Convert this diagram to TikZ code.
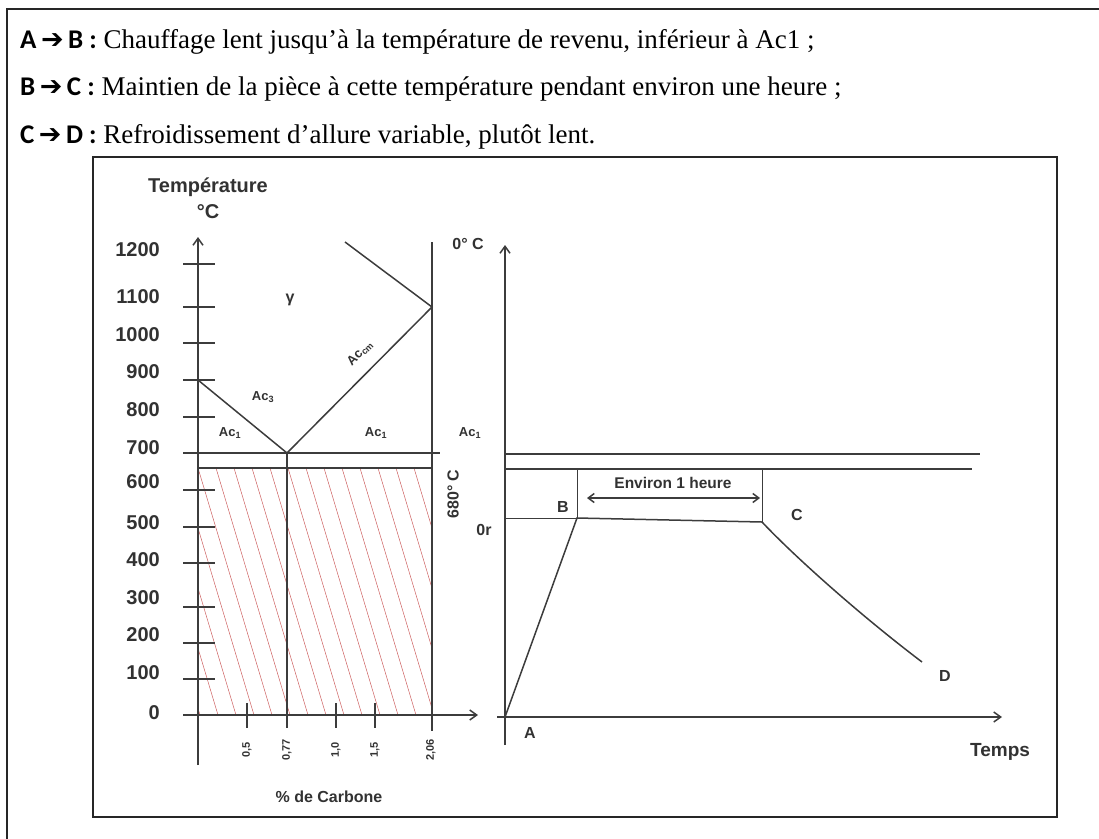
\documentclass[tikz,border=0pt]{standalone}
\usepackage{fontspec}
\setmainfont{Liberation Serif}
\setsansfont{Liberation Sans}
\newfontfamily\calfont{Carlito}
\newfontfamily\arrfont{DejaVu Sans}
\usetikzlibrary{arrows.meta, calc}
\definecolor{cLine}{RGB}{60,60,60}
\definecolor{cText}{RGB}{50,50,50}
\definecolor{cHatch}{RGB}{205,95,95}
\newcommand{\hdlab}[2]{{\calfont\bfseries #1\,{\arrfont\bfseries ➔}\,#2 :}}
\tikzset{
	frame/.style   ={black!85, line width=1.8pt},
	ax/.style      ={cLine, line width=1.5pt},
	axarrow/.style ={ax, -{Straight Barb[length=7pt, width=10pt]}},
	thinl/.style   ={cLine, line width=0.9pt},
	hatchl/.style  ={cHatch, line width=0.5pt},
	hdr/.style     ={font=\fontsize{27}{32}\selectfont, inner sep=0pt, anchor=base west},
	num/.style     ={font=\sffamily\bfseries\fontsize{20}{22}\selectfont, text=cText, inner sep=0pt},
	lbl/.style     ={font=\sffamily\bfseries\fontsize{16}{18}\selectfont, text=cText, inner sep=0pt},
	small/.style   ={font=\sffamily\bfseries\fontsize{13}{15}\selectfont, text=cText, inner sep=0pt},
	tiny/.style    ={font=\sffamily\bfseries\fontsize{11}{13}\selectfont, text=cText, inner sep=0pt},
}

\begin{document}
\begin{tikzpicture}[x=1pt, y=-1pt]
	\useasboundingbox (0,0) rectangle (1099,838);
	% frames
	\draw[frame] (7,9) rectangle (1130,870);
	\draw[frame, line width=1.5pt] (93,157) rectangle (1057,817);

	% header lines
	\node[hdr] (l1) at (20,48) {\hdlab{A}{B} Chauffage lent jusqu’à la température de revenu, inférieur à Ac1 ;};
	\node[hdr] (l2) at (20,95.5) {\hdlab{B}{C} Maintien de la pièce à cette température pendant environ une heure ;};
	\node[hdr] (l3) at (20,143) {\hdlab{C}{D} Refroidissement d’allure variable, plutôt lent.};

	% ---- left chart : Fe-C diagram
	\coordinate (eut) at (287,453);
	\coordinate (a3) at (198,380);
	\coordinate (cm) at (432,307);
	\coordinate (cmtop) at (345,242);

	\begin{scope}
		\clip (198,468) rectangle (432,715);
		\foreach \i in {-5,...,13} \draw[hatchl] (198+\i*18,468) -- ++(74,247);
	\end{scope}

	\draw[axarrow] (198,765) -- (198,237);
	\draw[axarrow] (183,715) -- (478,715);
	\foreach \y in {264,307,343,380,417,490,527,563,607,643,679} \draw[ax] (183,\y) -- (215,\y);
	\foreach \t/\y in {1200/250,1100/297,1000/335,900/372,800/410,700/448,600/482,500/523,400/560,300/598,200/635,100/673,0/713}
		\node[num, anchor=east] (t\t) at (160,\y) {\t};
	\node[num] (ttl) at (208,187) {Température};
	\node[num] (deg) at (208,212) {°C};

	\draw[ax] (183,453) -- (440,453);
	\draw[ax] (198,468) -- (432,468);
	\draw[ax] (432,242) -- (432,731);
	\draw[ax] (a3) -- (eut) -- (cm) -- (cmtop);
	\draw[ax] (eut) -- (287,728);
	\foreach \x in {247,336,375} \draw[ax] (\x,703) -- (\x,728);
	\foreach \c/\x in {0{,}5/247, 0{,}77/287, 1{,}0/336, 1{,}5/375, 2{,}06/431}
		\node[tiny, rotate=90] (c\x) at (\x,750) {\c};
	\node[lbl] (carb) at (329,797) {\% de Carbone};

	\node[lbl] (gam) at (290,300) {γ};
	\node[small, rotate=45] (acm) at (360,353) {Ac\textsubscript{cm}};
	\node[small] (ac3) at (263,397) {Ac\textsubscript{3}};
	\node[small] (ac1a) at (230,433) {Ac\textsubscript{1}};
	\node[small] (ac1b) at (376,433) {Ac\textsubscript{1}};
	\node[small] (ac1c) at (470,433) {Ac\textsubscript{1}};
	\node[lbl] (zc) at (468,244) {0° C};
	\node[lbl, rotate=90] (t680) at (453,494) {680° C};
	\node[lbl] (tor) at (484,530) {0r};

	% ---- right chart : tempering cycle
	\coordinate (pA) at (505,717);
	\coordinate (pB) at (577,518);
	\coordinate (pC) at (762,522);
	\coordinate (pD) at (922,662);

	\draw[axarrow] (505,745) -- (505,245);
	\draw[axarrow] (497,717) -- (1002,717);
	\draw[ax] (505,454) -- (980,454);
	\draw[ax] (505,469) -- (972,469);
	\draw[thinl] (505,518) -- (pB);
	\draw[thinl] (pB) -- (577,469);
	\draw[thinl] (pC) -- (762,469);
	\draw[ax] (pA) -- (pB) -- (pC);
	\draw[ax] (pC) .. controls (795,557) and (860,615) .. (pD);
	\draw[ax, {Straight Barb[length=6pt, width=9pt]}-{Straight Barb[length=6pt, width=9pt]}] (587,498) -- (760,498);
	\node[lbl, font=\sffamily\bfseries\fontsize{15.5}{18}\selectfont] (env) at (673,483) {Environ 1 heure};

	\node[lbl] (lA) at (530,733) {A};
	\node[lbl] (lB) at (563,507) {B};
	\node[lbl] (lC) at (797,515) {C};
	\node[lbl] (lD) at (945,676) {D};
	\node[num, font=\sffamily\bfseries\fontsize{19}{21}\selectfont] (temps) at (1000,752) {Temps};
\end{tikzpicture}
\end{document}
